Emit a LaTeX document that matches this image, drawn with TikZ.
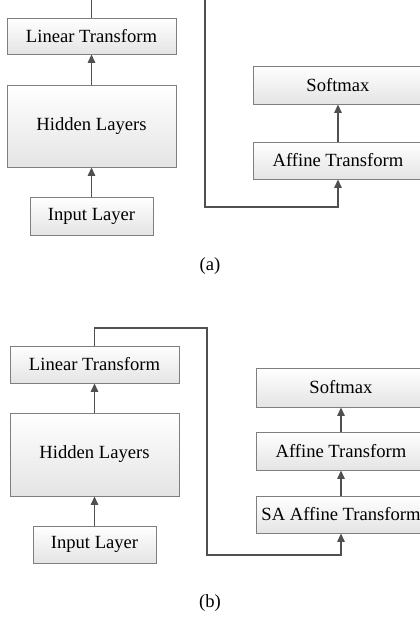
\documentclass[tikz,border=0pt]{standalone}
\usepackage{fontspec}
\setmainfont{Liberation Serif}
\usetikzlibrary{arrows.meta}
\definecolor{linegray}{HTML}{505050}
\definecolor{boxline}{HTML}{7F7F7F}
\definecolor{boxbot}{HTML}{E4E4E4}
\tikzset{
  layerbox/.style={draw=boxline, line width=0.9pt, top color=white, bottom color=boxbot,
    minimum width=169pt, inner sep=0pt, font=\fontsize{18.6}{20}\selectfont, text=black},
  conn/.style={draw=linegray, line width=1.4pt},
  arr/.style={conn, -{Triangle[length=8.5pt,width=7.5pt]}},
  caption/.style={font=\fontsize{18.6}{20}\selectfont}
}
\begin{document}
\begin{tikzpicture}[x=1pt,y=-1pt]
\useasboundingbox (0,0) rectangle (420,632);
% (a)
\node[layerbox, minimum height=36pt] (lin) at (91.5,36) {Linear Transform};
\node[layerbox, minimum height=82pt] (hid) at (91.5,126) {Hidden Layers};
\node[layerbox, minimum height=38pt, minimum width=123pt] (inp) at (91.5,216) {Input Layer};
\node[layerbox, minimum height=38pt, minimum width=170pt] (soft) at (338,85) {Softmax};
\node[layerbox, minimum height=37pt, minimum width=170pt] (aff) at (338,160.5) {Affine Transform};
\coordinate (topA) at (205,-3);
\coordinate (botA) at (205,207);
\draw[arr] (inp) -- (hid);
\draw[arr] (hid) -- (lin);
\draw[arr] (aff) -- (soft);
\draw[arr] (lin.north) |- (topA) -- (botA) -| (aff.south);
\node[caption] (capa) at (210,266) {(a)};
% (b)
\node[layerbox, minimum height=37pt] (lin2) at (94.5,364.5) {Linear Transform};
\node[layerbox, minimum height=83pt] (hid2) at (94.5,454.5) {Hidden Layers};
\node[layerbox, minimum height=37pt, minimum width=123pt] (inp2) at (94.5,544.5) {Input Layer};
\node[layerbox, minimum height=39pt, minimum width=170pt] (soft2) at (341,387.5) {Softmax};
\node[layerbox, minimum height=38pt, minimum width=170pt] (aff2) at (341,451) {Affine Transform};
\node[layerbox, minimum height=37pt, minimum width=170pt] (sa2) at (341,514.5) {SA Affine Transform};
\coordinate (topB) at (207,328);
\coordinate (botB) at (207,555);
\draw[arr] (inp2) -- (hid2);
\draw[arr] (hid2) -- (lin2);
\draw[arr] (sa2) -- (aff2);
\draw[arr] (aff2) -- (soft2);
\draw[arr] (lin2.north) |- (topB) -- (botB) -| (sa2.south);
\node[caption] (capb) at (210,603) {(b)};
\end{tikzpicture}
\end{document}
